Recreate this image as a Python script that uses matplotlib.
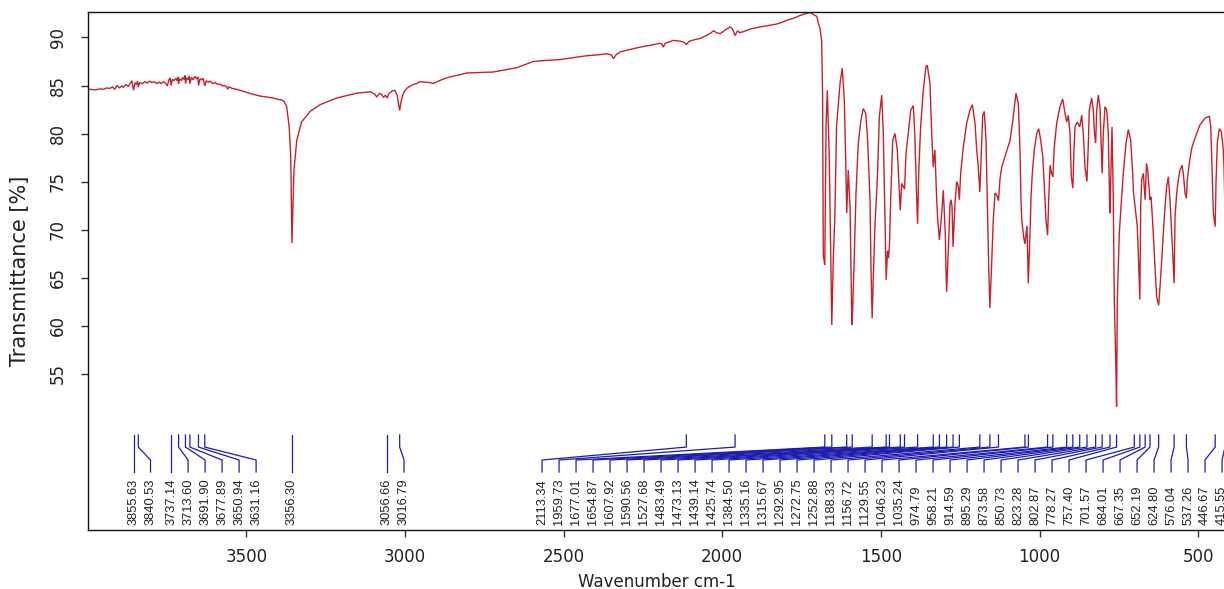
import matplotlib
matplotlib.use("Agg")
import matplotlib.pyplot as plt

# ---------------- data (wavenumber cm-1, transmittance %) ----------------
nh_region = [
    (4000, 84.55), (3992, 84.6), (3975, 84.55), (3961, 84.65), (3950, 84.6), (3940, 84.75),
    (3930, 84.7), (3922, 84.85), (3915, 84.6), (3908, 85.0), (3900, 84.75), (3893, 84.95),
    (3888, 84.8), (3880, 85.1), (3872, 84.9), (3866, 85.25), (3861, 85.5), (3855.6, 84.5),
    (3851, 85.3), (3846, 85.1), (3843, 85.45), (3840.5, 84.85), (3836, 85.3), (3828, 85.2),
    (3820, 85.4), (3812, 85.25), (3805, 85.45), (3797, 85.3), (3790, 85.4), (3782, 85.2),
    (3775, 85.35), (3768, 85.2), (3761, 85.4), (3755, 85.25), (3749, 84.95), (3744, 85.6),
    (3740, 85.8), (3737.1, 85.0), (3733, 85.65), (3728, 85.5), (3722, 85.75), (3718, 85.5),
    (3715, 85.9), (3713.6, 85.15), (3710, 85.7), (3705, 85.5), (3700, 85.85), (3696, 85.6),
    (3693, 86.05), (3691.9, 85.2), (3688, 85.8), (3684, 85.6), (3680, 86.0), (3677.9, 85.2),
    (3673, 85.85), (3668, 85.6), (3662, 85.95), (3656, 85.7), (3653, 85.9), (3650.9, 85.0),
    (3646, 85.7), (3641, 85.6), (3636, 85.75), (3631.2, 84.95), (3626, 85.5), (3620, 85.35),
    (3614, 85.45), (3606, 85.2), (3598, 85.3), (3590, 85.1), (3583, 85.15), (3575, 84.95),
    (3568, 85.0), (3562, 84.85), (3559, 84.6), (3555, 84.85), (3545, 84.7), (3530, 84.6),
    (3515, 84.45), (3499, 84.3), (3480, 84.1), (3457, 83.9), (3435, 83.8), (3415, 83.7),
    (3400, 83.55), (3389, 83.5), (3380, 83.3), (3373, 82.8), (3365, 80.7), (3360, 77.6),
    (3356.3, 68.6), (3350, 76.2), (3341, 79.3), (3326, 81.2), (3299, 82.3),
]

ch_region = [
    (3268, 83.0), (3215, 83.7), (3152, 84.2), (3110, 84.35), (3095, 84.1), (3089, 83.8),
    (3080, 84.2), (3072, 84.0), (3068, 83.75), (3062, 84.0), (3056.7, 83.7), (3050, 84.2),
    (3040, 84.45), (3032, 84.5), (3025, 84.0), (3020, 83.0), (3016.8, 82.4), (3012, 83.4),
    (3005, 84.2), (2995, 84.7), (2975, 85.1), (2963, 85.2), (2953, 85.4), (2935, 85.35),
    (2921, 85.3), (2911, 85.2), (2885, 85.6), (2858, 85.9), (2830, 86.1), (2806, 86.3),
    (2770, 86.35), (2722, 86.4), (2690, 86.6), (2648, 86.85), (2620, 87.2), (2596, 87.5),
    (2560, 87.6), (2512, 87.7), (2470, 87.9), (2427, 88.1), (2390, 88.2), (2364, 88.3),
    (2350, 88.2), (2343, 87.8), (2335, 88.2), (2322, 88.5), (2290, 88.75), (2259, 89.0),
    (2225, 89.2), (2196, 89.4), (2190, 89.3), (2186, 89.0), (2180, 89.4), (2154, 89.7),
    (2130, 89.6), (2118, 89.45), (2113.3, 89.25), (2105, 89.6), (2085, 89.8), (2070, 89.9),
    (2050, 90.2), (2035, 90.5), (2028, 90.7), (2018, 90.5), (2007, 90.4), (1990, 90.8),
    (1976, 91.1), (1968, 90.9), (1959.7, 90.2), (1952, 90.7), (1945, 90.5), (1934, 90.6),
    (1910, 90.9), (1881, 91.1), (1855, 91.25), (1829, 91.4), (1810, 91.6), (1797, 91.8),
    (1775, 92.0), (1755, 92.3), (1734, 92.5), (1724, 92.6), (1715, 92.45), (1708, 92.3),
    (1702, 92.2), (1697, 91.5), (1692, 90.9), (1687, 89.7),
]

fingerprint = [
    (1684, 84.2), (1681.7, 67.3), (1677, 66.3), (1673, 80.9), (1669, 84.5), (1666, 81.1),
    (1663, 77.6), (1654.9, 60.05), (1650, 67.2), (1645, 71.7), (1640, 80.7), (1629, 85.2),
    (1622, 86.8), (1615.5, 83.5), (1611, 77.2), (1607.9, 71.7), (1603, 76.2), (1597.5, 72.4),
    (1592.5, 62.0), (1590.6, 60.05), (1585, 66.1), (1578.6, 73.8), (1571.4, 79.0), (1563, 81.4),
    (1555.6, 82.6), (1548, 82.1), (1542, 79.3), (1534.5, 73.1), (1531.4, 66.1), (1527.7, 60.75),
    (1524, 65.1), (1519, 70.3), (1511.5, 75.2), (1505, 81.75), (1497.6, 84.0), (1492.6, 80.0),
    (1488.2, 72.4), (1483.5, 64.75), (1479.3, 67.8), (1476, 67.0), (1473.1, 68.5), (1469.3, 73.1),
    (1463, 79.3), (1455.7, 80.0), (1448.5, 78.3), (1443, 74.5), (1439.1, 72.0), (1434.6, 74.8),
    (1425.7, 74.2), (1421, 77.9), (1414, 80.0), (1406, 82.45), (1398, 82.9), (1393, 79.7),
    (1387.3, 73.1), (1384.5, 70.6), (1381, 75.85), (1375, 80.7), (1366.5, 84.5), (1358, 87.0),
    (1354, 87.1), (1345.4, 85.2), (1340, 80.0), (1335.2, 76.5), (1330, 78.3), (1324.3, 73.1),
    (1321, 71.0), (1315.7, 68.9), (1308.5, 71.7), (1303.5, 74.1), (1300.3, 71.7), (1297.2, 69.6),
    (1295, 65.8), (1293, 63.5), (1286.5, 68.9), (1282.4, 72.7), (1279.2, 73.1), (1276, 72.4),
    (1272.8, 68.2), (1266.6, 72.7), (1261.3, 75.0), (1256.2, 74.5), (1252.9, 73.1), (1248.7, 75.85),
    (1240.5, 78.6), (1229.7, 81.1), (1219.4, 82.45), (1212, 83.0), (1203.6, 81.1), (1198.2, 78.3),
    (1193.2, 76.5), (1188.3, 73.9), (1184, 77.6), (1179.3, 81.9), (1174.3, 82.3), (1168.9, 79.3),
    (1164.8, 73.1), (1160.4, 66.1), (1156.7, 61.8), (1151, 66.5), (1146, 71.0), (1140.5, 73.8),
    (1135, 73.6), (1129.6, 73.0), (1125, 75.2), (1119.4, 76.5), (1109, 77.6), (1093, 79.3),
    (1083, 81.75), (1074.4, 84.2), (1067.1, 83.1), (1061.8, 78.3), (1058.6, 73.1), (1056.4, 71.0),
    (1049.2, 69.0), (1046.2, 68.5), (1039.7, 70.4), (1035.6, 64.4), (1030.2, 69.6), (1027, 73.4),
    (1023, 75.85), (1016.7, 78.3), (1009, 80.0), (1002.8, 80.5), (996.5, 79.3), (990, 77.6),
    (985, 74.5), (980, 71.0), (974.8, 69.4), (971.3, 73.1), (967, 76.7), (962, 75.8),
    (958.2, 75.5), (953.7, 78.6), (946, 81.1), (935.7, 82.8), (927.2, 83.6), (920, 82.1),
    (914.6, 81.2), (909.5, 81.9), (904.2, 80.0), (900, 75.5), (895.3, 74.3), (891.6, 78.3),
    (888.4, 80.7), (881.2, 81.2), (873.6, 80.7), (867.3, 81.9), (862.3, 80.0), (856.9, 76.5),
    (850.7, 75.0), (846, 79.3), (843.4, 82.45), (835.8, 83.7), (830.8, 82.45), (827, 80.0),
    (823.3, 79.0), (820, 82.45), (815.1, 84.0), (809.7, 82.8), (806.5, 79.3), (802.9, 75.85),
    (799.3, 80.0), (793.9, 82.8), (788.5, 82.45), (783.5, 80.0), (780.3, 74.5), (778.3, 71.7),
    (775, 76.5), (771.8, 80.7), (767.7, 73.1), (764.6, 62.7), (760.1, 56.4), (757.4, 51.55),
    (755.1, 62.7), (748.8, 69.6), (743.4, 72.4), (736.2, 75.85), (727.7, 79.0), (720.4, 80.4),
    (712.9, 79.3), (706.6, 75.85), (704, 73.8), (701.6, 73.1), (692.1, 70.3), (688.9, 67.5),
    (684.0, 62.7), (681.4, 72.4), (678.2, 75.2), (673.2, 75.85), (667.4, 73.1), (663.1, 76.9),
    (659.3, 76.2), (652.2, 73.1), (649, 73.4), (646.7, 72.4), (641.7, 69.6), (636.3, 66.1),
    (631, 63.0), (624.8, 62.1), (620.5, 64.0), (615.1, 66.8), (610.1, 69.6), (604.7, 72.4),
    (599.4, 74.5), (594.3, 75.5), (589, 73.1), (583.6, 69.6), (578.6, 66.1), (576.0, 64.4),
    (573.2, 71.3), (567.9, 73.8), (562.8, 75.2), (557.5, 76.2), (551.2, 76.7), (547.1, 75.85),
    (541.7, 73.8), (537.3, 73.25), (534.5, 75.2), (528.2, 76.9), (520.6, 78.45), (515.6, 79.0),
    (504.9, 80.0), (494.5, 80.9), (478.7, 81.6), (465.1, 81.8), (460.7, 80.7), (456.6, 76.5),
    (452.5, 71.7), (446.7, 70.3), (444.1, 74.8), (440, 79.0), (433.6, 80.5), (427.3, 80.2),
    (421, 78.3), (418.8, 76.5), (415.6, 72.0), (412, 74.0),
]

peak_wn = [
    3855.63, 3840.53, 3737.14, 3713.60, 3691.90, 3677.89, 3650.94, 3631.16, 3356.30,
    3056.66, 3016.79, 2113.34, 1959.73, 1677.01, 1654.87, 1607.92, 1590.56, 1527.68,
    1483.49, 1473.13, 1439.14, 1425.74, 1384.50, 1335.16, 1315.67, 1292.95, 1272.75,
    1252.88, 1188.33, 1156.72, 1129.55, 1046.23, 1035.24, 974.79, 958.21, 914.59,
    895.29, 873.58, 850.73, 823.28, 802.87, 778.27, 757.40, 701.57, 684.01, 667.35,
    652.19, 624.80, 576.04, 537.26, 446.67, 415.55,
]

x_ticks = [3500, 3000, 2500, 2000, 1500, 1000, 500]
y_ticks = [55, 60, 65, 70, 75, 80, 85, 90]

# ---------------- layout / style ----------------
W, H = 1224, 589
X_LEFT, X_RIGHT = 4000, 412
Y_BOTTOM, Y_TOP = 38.70, 92.656
PX_PER_WN = 0.3173
ax_left_px, ax_top_px, ax_bottom_px = 87.7, 12, 530

SPEC_COLOR = "#c8202a"
LEAD_COLOR = "#1c1cb0"
TEXT_COLOR = "#222222"

# leader geometry (transmittance units) and label spreading
Y_LEAD_TOP, Y_LEAD_B1, Y_LEAD_B2, Y_LEAD_BOT = 48.6, 47.34, 45.99, 44.74
Y_LABEL = 39.2
LABEL_GAP = 17 / PX_PER_WN
LABEL_RIGHT = 425

fig = plt.figure(figsize=(W / 100, H / 100), dpi=100)
ax_w_px = (X_LEFT - X_RIGHT) * PX_PER_WN
ax = fig.add_axes([ax_left_px / W, 1 - ax_bottom_px / H, ax_w_px / W,
                   (ax_bottom_px - ax_top_px) / H])

spectrum = nh_region + ch_region + fingerprint
wn = [p[0] for p in spectrum]
tr = [p[1] for p in spectrum]
ax.plot(wn, tr, color=SPEC_COLOR, lw=1.0, solid_joinstyle="miter")

# spread peak labels
pos = list(peak_wn)
for i in range(1, len(pos)):
    pos[i] = min(pos[i], pos[i - 1] - LABEL_GAP)
pos[-1] = max(pos[-1], LABEL_RIGHT)
for i in range(len(pos) - 2, -1, -1):
    pos[i] = max(pos[i], pos[i + 1] + LABEL_GAP)

for w, p in zip(peak_wn, pos):
    ax.plot([w, w, p, p], [Y_LEAD_TOP, Y_LEAD_B1, Y_LEAD_B2, Y_LEAD_BOT],
            color=LEAD_COLOR, lw=0.9, clip_on=False)
    ax.text(p, Y_LABEL, f"{w:.2f}", rotation=90, ha="center", va="bottom",
            fontsize=9.3, color=TEXT_COLOR, family="Liberation Sans")

ax.set_xlim(X_LEFT, X_RIGHT)
ax.set_ylim(Y_BOTTOM, Y_TOP)
ax.set_xticks(x_ticks)
ax.set_yticks(y_ticks)
ax.set_xticklabels([str(t) for t in x_ticks])
ax.set_yticklabels([str(t) for t in y_ticks])
ax.tick_params(axis="both", direction="out", length=5.0, width=1.0,
               colors="#333333", labelsize=12, labelcolor=TEXT_COLOR)
ax.tick_params(axis="x", pad=8)
ax.tick_params(axis="y", pad=10, labelrotation=90)
for lab in ax.get_yticklabels():
    lab.set_va("center")
for s in ax.spines.values():
    s.set_color("#111111")
    s.set_linewidth(1.0)

fig.text(657 / W, 1 - 582 / H, "Wavenumber cm-1", ha="center", va="center",
         fontsize=12, color=TEXT_COLOR)
fig.text(20 / W, 1 - 271 / H, "Transmittance [%]", ha="center", va="center",
         rotation=90, fontsize=15, color=TEXT_COLOR)

fig.savefig("out.png", dpi=100)
